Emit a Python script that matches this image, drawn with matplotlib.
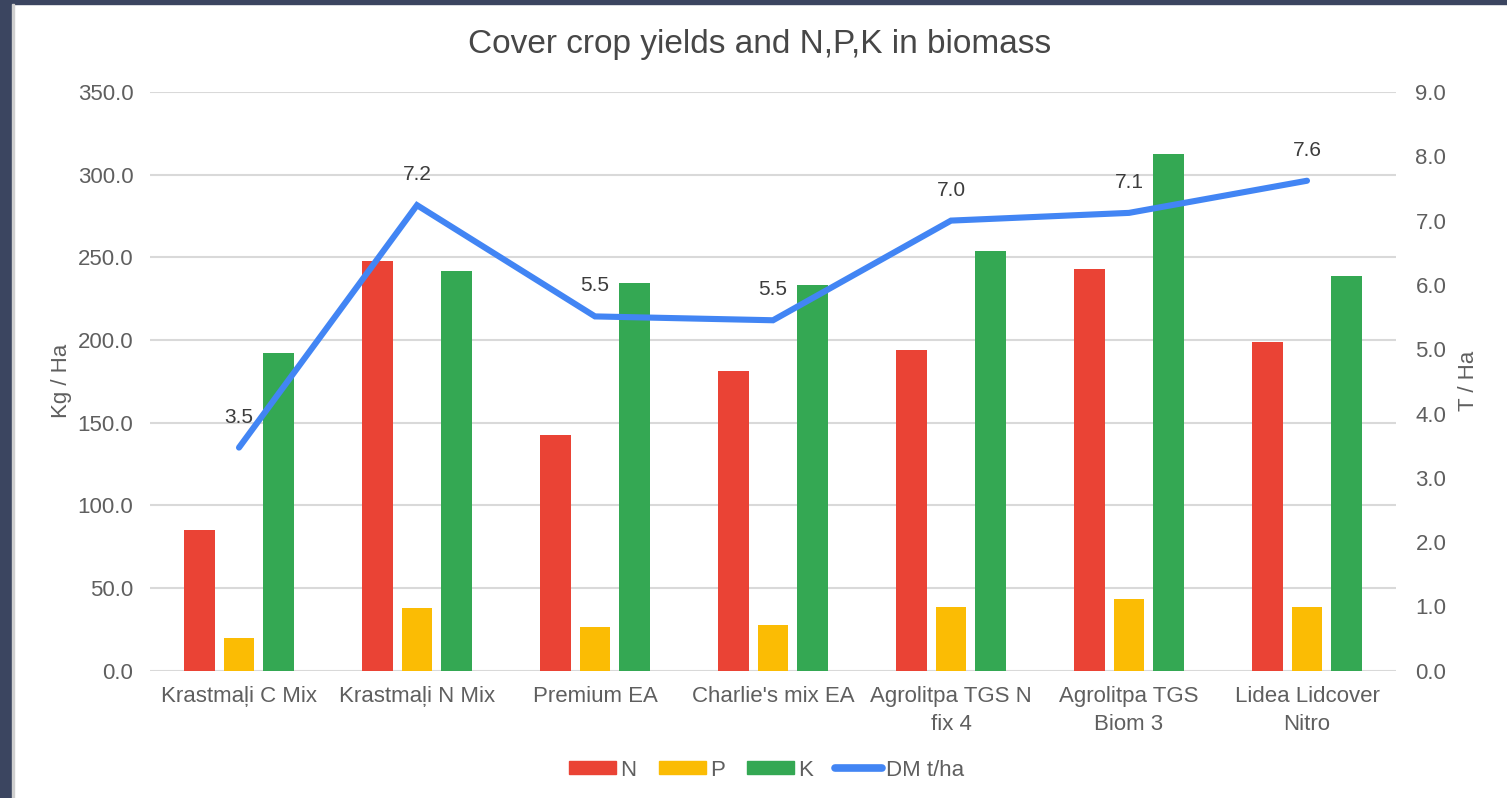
import matplotlib
matplotlib.use("Agg")
import matplotlib.pyplot as plt
import numpy as np
from matplotlib.patches import Patch, Rectangle
from matplotlib.lines import Line2D
from matplotlib.ticker import FormatStrFormatter, MultipleLocator

# Data
categories = [
    "Krastmaļi C Mix",
    "Krastmaļi N Mix",
    "Premium EA",
    "Charlie's mix EA",
    "Agrolitpa TGS N\nfix 4",
    "Agrolitpa TGS\nBiom 3",
    "Lidea Lidcover\nNitro",
]
n_vals = [85.0, 247.5, 142.5, 181.5, 194.0, 243.0, 198.5]
p_vals = [20.0, 38.0, 26.5, 27.5, 38.5, 43.5, 38.5]
k_vals = [192.0, 241.5, 234.5, 233.5, 254.0, 312.5, 238.5]
dm_vals = [3.47, 7.24, 5.51, 5.45, 7.0, 7.12, 7.62]
dm_labels = ["3.5", "7.2", "5.5", "5.5", "7.0", "7.1", "7.6"]

# Colours / style
RED = "#EA4335"
YELLOW = "#FBBC04"
GREEN = "#34A853"
BLUE = "#4285F4"
GRID = "#D9D9D9"
TICK_COLOR = "#5F5F5F"
TITLE_COLOR = "#474747"
BORDER = "#3B4560"

BAR_W = 0.174
BAR_OFF = 0.222

plt.rcParams["font.family"] = ["Liberation Sans", "DejaVu Sans"]


def main():
    fig = plt.figure(figsize=(15.07, 7.98), dpi=100)
    fig.patch.set_facecolor("white")

    # dark frame of the screenshot (left and top)
    fig.patches.append(Rectangle((0, 0), 12 / 1507, 1, transform=fig.transFigure,
                                 color=BORDER, zorder=0))
    fig.patches.append(Rectangle((0, 1 - 4 / 798), 1, 4 / 798, transform=fig.transFigure,
                                 color=BORDER, zorder=0))
    fig.patches.append(Rectangle((12 / 1507, 0), 1.5 / 1507, 1 - 4 / 798,
                                 transform=fig.transFigure, color="#CFCFCF", zorder=0))

    ax = fig.add_axes([150 / 1507, 1 - 670.7 / 798, 1246 / 1507, (670.7 - 92) / 798])
    x = np.arange(len(categories))

    ax.bar(x - BAR_OFF, n_vals, BAR_W, color=RED, zorder=3)
    ax.bar(x, p_vals, BAR_W, color=YELLOW, zorder=3)
    ax.bar(x + BAR_OFF, k_vals, BAR_W, color=GREEN, zorder=3)

    ax.set_xlim(-0.5, len(categories) - 0.5)
    ax.set_ylim(0, 350)
    ax.yaxis.set_major_locator(MultipleLocator(50))
    ax.yaxis.set_major_formatter(FormatStrFormatter("%.1f"))
    ax.grid(axis="y", color=GRID, linewidth=1.5, zorder=0)
    ax.set_axisbelow(True)
    for s in ax.spines.values():
        s.set_visible(False)
    ax.set_xticks(x)
    ax.set_xticklabels(categories, fontsize=16, color=TICK_COLOR, linespacing=1.45)
    ax.tick_params(axis="x", length=0, pad=11)
    ax.tick_params(axis="y", length=0, pad=12, labelsize=16, labelcolor=TICK_COLOR)
    ax.set_ylabel("Kg / Ha", fontsize=16, color=TICK_COLOR, labelpad=4)

    # secondary axis for dry matter
    ax2 = ax.twinx()
    ax2.plot(x, dm_vals, color=BLUE, linewidth=4.4, solid_capstyle="round",
             solid_joinstyle="miter", zorder=5)
    ax2.set_ylim(0, 9)
    ax2.yaxis.set_major_locator(MultipleLocator(1))
    ax2.yaxis.set_major_formatter(FormatStrFormatter("%.1f"))
    ax2.tick_params(axis="y", length=0, pad=14, labelsize=16, labelcolor=TICK_COLOR)
    for s in ax2.spines.values():
        s.set_visible(False)
    ax2.set_ylabel("T / Ha", fontsize=16, color=TICK_COLOR, labelpad=8)

    for xi, yi, lab in zip(x, dm_vals, dm_labels):
        ax2.annotate(lab, (xi, yi), xytext=(0, 22), textcoords="offset points",
                     ha="center", va="center", fontsize=15, color="#3C3C3C")

    fig.text(0.504, 1 - 45 / 798, "Cover crop yields and N,P,K in biomass",
             ha="center", va="center", fontsize=24, color=TITLE_COLOR)

    handles = [
        Patch(color=RED, label="N"),
        Patch(color=YELLOW, label="P"),
        Patch(color=GREEN, label="K"),
        Line2D([], [], color=BLUE, linewidth=5.5, solid_capstyle="round", label="DM t/ha"),
    ]
    fig.legend(handles=handles, loc="center", bbox_to_anchor=(767 / 1507, 1 - 770 / 798),
               ncol=4, frameon=False, fontsize=16, labelcolor=TICK_COLOR,
               handlelength=2.1, handleheight=0.5, handletextpad=0.2,
               columnspacing=1.0)

    fig.savefig("out.png", dpi=100)


if __name__ == "__main__":
    main()
